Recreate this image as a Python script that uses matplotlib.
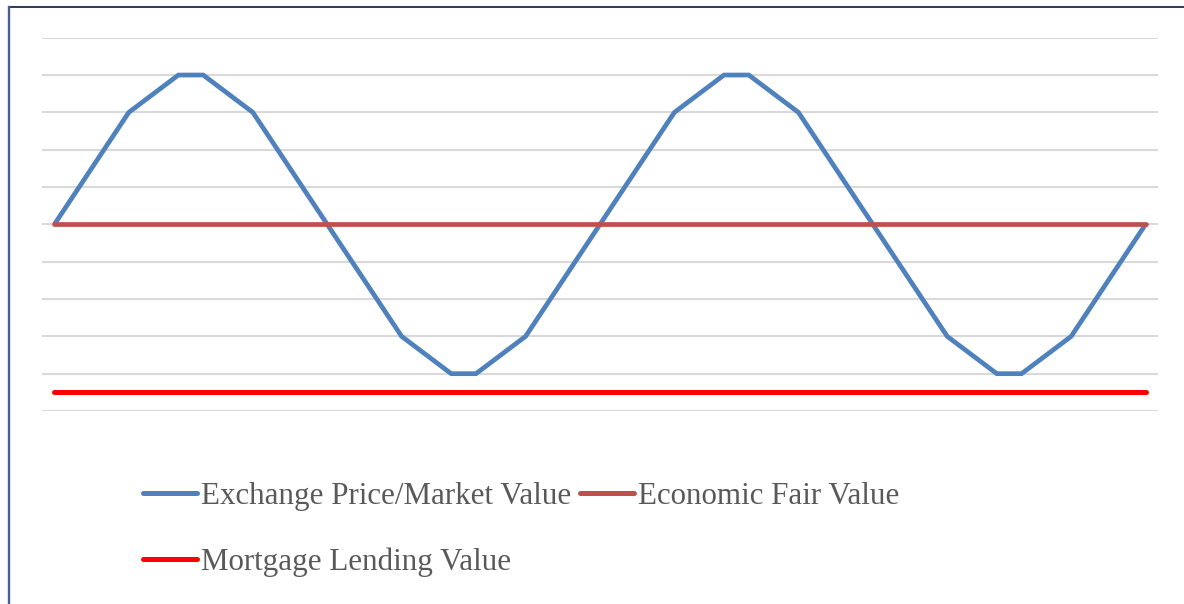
import matplotlib
matplotlib.use('Agg')
import matplotlib.pyplot as plt
from matplotlib.lines import Line2D

# values, one per category (45 categories)
market_value = [5, 6, 7, 8, 8.5, 9, 9, 8.5, 8, 7, 6, 5, 4, 3, 2, 1.5, 1, 1, 1.5, 2, 3, 4,
                5, 6, 7, 8, 8.5, 9, 9, 8.5, 8, 7, 6, 5, 4, 3, 2, 1.5, 1, 1, 1.5, 2, 3, 4, 5]
fair_value = [5] * len(market_value)
lending_value = [0.5] * len(market_value)
labels = ['Exchange Price/Market Value', 'Economic Fair Value', 'Mortgage Lending Value']
colors = ['#4F81BD', '#C0504D', '#FF0000']

W, H = 1184, 604
fig = plt.figure(figsize=(W / 100, H / 100), dpi=100)
ax = fig.add_axes([42 / W, 1 - 411 / H, (1158 - 42) / W, (411 - 37.7) / H])

x = range(len(market_value))
ax.plot(x, market_value, color=colors[0], lw=3.4, solid_joinstyle='miter', solid_capstyle='butt', zorder=3)
ax.plot(x, fair_value, color=colors[1], lw=3.4, solid_capstyle='round', zorder=3)
ax.plot(x, lending_value, color=colors[2], lw=3.6, solid_capstyle='round', zorder=3)

ax.set_xlim(-0.5, len(market_value) - 0.5)
ax.set_ylim(0, 10)
ax.set_yticks(range(0, 11))
ax.grid(axis='y', color='#D9D9D9', lw=1.5)
ax.set_axisbelow(True)
ax.tick_params(left=False, bottom=False, labelleft=False, labelbottom=False)
for s in ax.spines.values():
    s.set_visible(False)

# frame lines of the chart area
fig.add_artist(Line2D([8.5 / W, 1], [1 - 7 / H, 1 - 7 / H], color='#1A2A4F', lw=1.3))
fig.add_artist(Line2D([8.5 / W, 8.5 / W], [0, 1 - 7 / H], color='#4A5E8E', lw=1.7))

# legend drawn by hand, Excel style
fig.canvas.draw()
renderer = fig.canvas.get_renderer()
rows = [(0, 493), (1, 493), (2, 559)]
x0 = 143
next_x = x0
for i, (idx, ypix) in enumerate(rows):
    start = next_x if i == 1 else x0
    yf = 1 - ypix / H
    fig.add_artist(Line2D([start / W, (start + 54) / W], [yf, yf], color=colors[idx],
                          lw=3.6, solid_capstyle='round'))
    t = fig.text((start + 58) / W, yf, labels[idx], fontsize=22.3, family='Liberation Serif',
                 color='#595959', va='center_baseline', ha='left')
    bb = t.get_window_extent(renderer)
    next_x = bb.x1 + 9

fig.savefig('out.png', dpi=100)
